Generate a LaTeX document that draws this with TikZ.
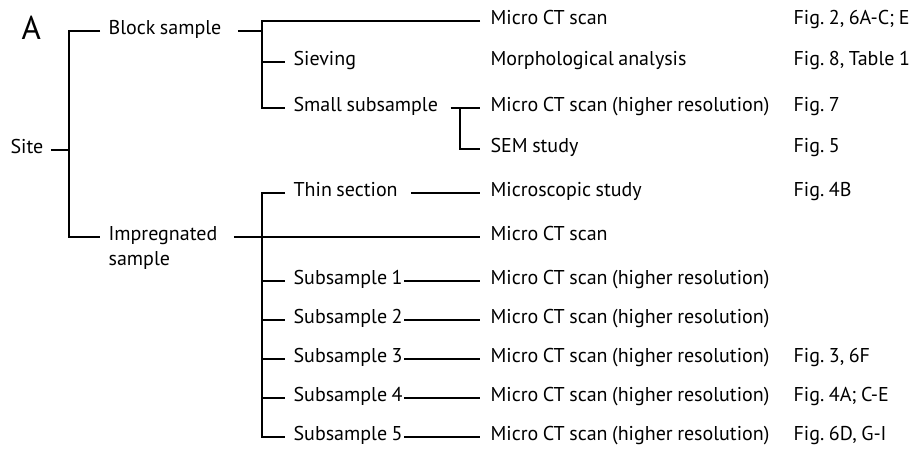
\documentclass[tikz,border=0pt]{standalone}
\usepackage{fontspec}
\setmainfont{PT Sans}[WordSpace=0.85]

\begin{document}
\frenchspacing
\begin{tikzpicture}[x=1pt, y=-1pt, line width=1.2pt,
    txt/.style={anchor=west, inner sep=0pt, text height=.8em, text depth=.15em,
      font=\fontsize{20}{22}\selectfont}]
  \useasboundingbox (0,0) rectangle (910,450);
  % panel letter
  \node[anchor=west, inner sep=0pt, font=\fontsize{33}{34}\selectfont] (panel) at (21,28) {A};
  % left part of the tree
  \node[txt] (site) at (10,150) {Site};
  \node[txt] (block) at (108,31) {Block sample};
  \node[txt] (impA) at (108,237) {Impregnated};
  \node[txt] (impB) at (108,262) {sample};
  \node[txt] (sieve) at (293,62) {Sieving};
  \node[txt] (small) at (293,108) {Small subsample};
  \node[txt] (thin) at (293,193) {Thin section};
  \foreach \i/\y in {1/281,2/320,3/359,4/398,5/437}
    \node[txt] (sub\i) at (293,\y) {Subsample \i};
  % methods
  \node[txt] (ct1) at (490,21) {Micro CT scan};
  \node[txt] (morph) at (490,62) {Morphological analysis};
  \node[txt] (ct2) at (490,108) {Micro CT scan (higher resolution)};
  \node[txt] (sem) at (490,149) {SEM study};
  \node[txt] (micro) at (490,193) {Microscopic study};
  \node[txt] (ct3) at (490,237) {Micro CT scan};
  \foreach \i/\y in {1/281,2/320,3/359,4/398,5/437}
    \node[txt] (subct\i) at (490,\y) {Micro CT scan (higher resolution)};
  % figure references
  \node[txt] (fig1) at (793,21) {Fig. 2, 6A-C; E};
  \node[txt] (fig2) at (793,62) {Fig. 8, Table 1};
  \node[txt] (fig3) at (793,108) {Fig. 7};
  \node[txt] (fig4) at (793,149) {Fig. 5};
  \node[txt] (fig5) at (793,193) {Fig. 4B};
  \node[txt] (fig6) at (793,359) {Fig. 3, 6F};
  \node[txt] (fig7) at (793,398) {Fig. 4A; C-E};
  \node[txt] (fig8) at (793,437) {Fig. 6D, G-I};
  % junctions
  \coordinate (tk) at (69,150);
  \coordinate (bb) at (262,31);
  \coordinate (sj) at (460,108);
  \coordinate (ib) at (262,237);
  % connectors
  \draw ([xshift=7pt]site.east) -- (tk);
  \draw ([xshift=-8pt]block.west) -| (tk) |- ([xshift=-8pt]impA.west);
  \draw ([xshift=16pt]block.east) -- (bb);
  \draw ([xshift=-10pt]ct1.west) -| (bb) |- ([xshift=-8pt]small.west);
  \draw (bb |- sieve) -- ([xshift=-8pt]sieve.west);
  \draw ([xshift=12pt]small.east) -- ([xshift=-10pt]ct2.west);
  \draw (sj) |- ([xshift=-10pt]sem.west);
  \draw ([xshift=-8pt]thin.west) -| (ib) |- ([xshift=-8pt]sub5.west);
  \draw ([xshift=13pt]thin.east) -- ([xshift=-10pt]micro.west);
  \draw ([xshift=16pt]impA.east) -- ([xshift=-10pt]ct3.west);
  \foreach \i in {1,...,4}
    \draw (ib |- sub\i) -- ([xshift=-8pt]sub\i.west);
  \foreach \i in {1,...,5}
    \draw ([xshift=1pt]sub\i.east) -- ([xshift=-10pt]subct\i.west);
\end{tikzpicture}
\end{document}
